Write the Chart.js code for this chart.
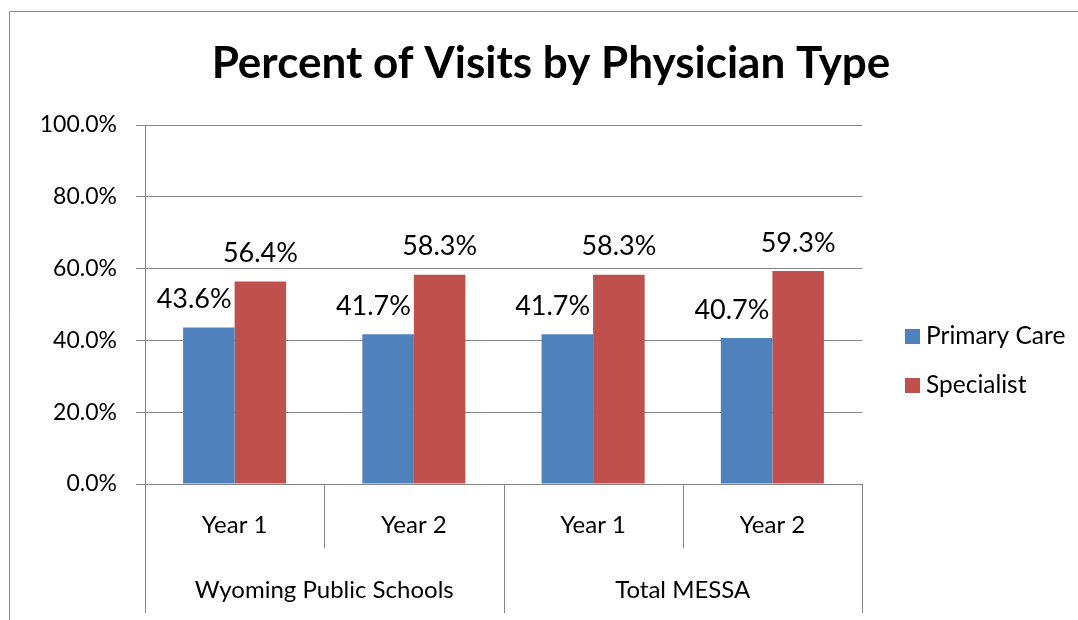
<!DOCTYPE html>
<html>
<head>
<meta charset="utf-8">
<script src="https://cdn.jsdelivr.net/npm/chart.js@4.4.1/dist/chart.umd.min.js"></script>
<style>
html,body{margin:0;padding:0;background:#fff;}
#wrap{position:relative;width:1078px;height:620px;}
</style>
</head>
<body>
<div id="wrap"><canvas id="c" width="1078" height="620"></canvas></div>
<script>
const chartTitle = "Percent of Visits by Physician Type";
const categories = ["Year 1", "Year 2", "Year 1", "Year 2"];
const groups = ["Wyoming Public Schools", "Total MESSA"];
const groupSizes = [2, 2];
const seriesNames = ["Primary Care", "Specialist"];
const primaryCare = [43.6, 41.7, 41.7, 40.7];
const specialist = [56.4, 58.3, 58.3, 59.3];
const seriesColors = ["#4F81BD", "#C0504D"];
const yTicks = [0, 20, 40, 60, 80, 100];

const FONT = "Lato";
const GRID = "#868686";

const decor = {
  id: "decor",
  beforeDraw(chart) {
    const ctx = chart.ctx;
    ctx.save();
    ctx.strokeStyle = "#8a8a8a";
    ctx.lineWidth = 1;
    ctx.beginPath();
    ctx.moveTo(9.5, 620);
    ctx.lineTo(9.5, 11.5);
    ctx.lineTo(1078, 11.5);
    ctx.stroke();
    ctx.restore();
  },
  afterDraw(chart) {
    const ctx = chart.ctx;
    const xs = chart.scales.x;
    const area = chart.chartArea;
    ctx.save();
    // title
    ctx.fillStyle = "#000";
    ctx.font = "bold 44px " + FONT;
    ctx.textAlign = "center";
    ctx.textBaseline = "alphabetic";
    ctx.fillText(chartTitle, 551, 78);

    // category separators and labels
    const step = xs.getPixelForValue(1) - xs.getPixelForValue(0);
    const half = step / 2;
    ctx.strokeStyle = GRID;
    ctx.lineWidth = 1;
    const groupBounds = new Set([0]);
    let acc = 0;
    groupSizes.forEach(s => { acc += s; groupBounds.add(acc); });
    for (let i = 0; i <= categories.length; i++) {
      const px = Math.round(xs.getPixelForValue(0) - half + i * step) + 0.5;
      const bottom = groupBounds.has(i) ? 613 : 548;
      ctx.beginPath();
      ctx.moveTo(px, area.bottom);
      ctx.lineTo(px, bottom);
      ctx.stroke();
    }
    ctx.font = "24px " + FONT;
    ctx.textBaseline = "middle";
    ctx.textAlign = "center";
    categories.forEach((c, i) => {
      ctx.fillText(c, xs.getPixelForValue(i), 525);
    });
    let start = 0;
    groups.forEach((g, gi) => {
      const n = groupSizes[gi];
      const cx = (xs.getPixelForValue(start) + xs.getPixelForValue(start + n - 1)) / 2;
      ctx.fillText(g, cx, 590);
      start += n;
    });

    // data labels
    ctx.font = "27px " + FONT;
    chart.data.datasets.forEach((ds, di) => {
      const meta = chart.getDatasetMeta(di);
      meta.data.forEach((bar, i) => {
        const txt = ds.data[i].toFixed(1) + "%";
        if (di === 0) {
          ctx.textAlign = "right";
          ctx.fillText(txt, bar.x + bar.width / 2 - 3, bar.y - 28);
        } else {
          ctx.textAlign = "center";
          ctx.fillText(txt, bar.x, bar.y - 28);
        }
      });
    });

    // legend
    ctx.font = "24.5px " + FONT;
    ctx.textAlign = "left";
    const ly = [336, 385];
    chart.data.datasets.forEach((ds, di) => {
      ctx.fillStyle = ds.backgroundColor;
      ctx.fillRect(905, ly[di] - 7, 15, 15);
      ctx.fillStyle = "#000";
      ctx.fillText(ds.label, 926, ly[di]);
    });
    ctx.restore();
  }
};

new Chart(document.getElementById("c"), {
  type: "bar",
  data: {
    labels: categories,
    datasets: [
      { label: seriesNames[0], data: primaryCare, backgroundColor: seriesColors[0] },
      { label: seriesNames[1], data: specialist, backgroundColor: seriesColors[1] }
    ]
  },
  options: {
    responsive: false,
    animation: false,
    devicePixelRatio: 1,
    layout: { padding: { top: 125, right: 216, bottom: 0, left: 0 } },
    datasets: { bar: { barPercentage: 1, categoryPercentage: 0.575 } },
    plugins: {
      legend: { display: false },
      title: { display: false },
      tooltip: { enabled: false }
    },
    scales: {
      x: {
        offset: true,
        grid: { display: false },
        border: { display: false },
        ticks: { display: false },
        afterFit(s) { s.height = 136; }
      },
      y: {
        min: 0,
        max: 100,
        afterBuildTicks(s) { s.ticks = yTicks.map(v => ({ value: v })); },
        afterFit(s) { s.width = 145; },
        grid: { color: GRID, tickLength: 9, lineWidth: 1 },
        border: { display: true, color: GRID },
        ticks: {
          padding: 19,
          color: "#000",
          font: { family: FONT, size: 23 },
          callback: v => v.toFixed(1) + "%"
        }
      }
    }
  },
  plugins: [decor]
});
</script>
</body>
</html>
